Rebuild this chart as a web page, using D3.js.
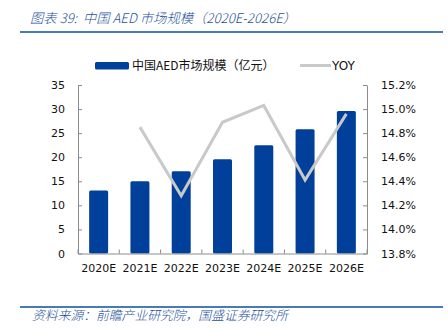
<!DOCTYPE html>
<html>
<head>
<meta charset="utf-8">
<script src="https://cdn.jsdelivr.net/npm/d3@7"></script>
<style>
  html, body { margin: 0; padding: 0; background: #fff; }
  svg { display: block; }
</style>
</head>
<body>
<script>
// AED market size in China (100 million yuan) and year-on-year growth
const years = ["2020E", "2021E", "2022E", "2023E", "2024E", "2025E", "2026E"];
const marketSize = [13.1, 15.0, 17.1, 19.6, 22.5, 25.8, 29.6];
const yoyYears = ["2021E", "2022E", "2023E", "2024E", "2025E", "2026E"];
const yoy = [0.1485, 0.1428, 0.1489, 0.1503, 0.1441, 0.1496];
const leftTicks = [0, 5, 10, 15, 20, 25, 30, 35];
const rightTicks = [0.138, 0.140, 0.142, 0.144, 0.146, 0.148, 0.150, 0.152];

const W = 448, H = 329;
const blue = "#00409a";
const titleBlue = "#1d4f9e";
const grey = "#c9c9c9";
const font = "DejaVu Sans, Verdana, sans-serif";
const cjk = "Noto Sans CJK SC, sans-serif";

const svg = d3.select("body").append("svg").attr("width", W).attr("height", H);

const plot = { left: 78, right: 367, top: 85, bottom: 253.5 };

const x = d3.scaleBand().domain(years).range([plot.left, plot.right]).paddingInner(0.54).paddingOuter(0.27);
const xBand = d3.scaleBand().domain(years).range([plot.left, plot.right]);
const yL = d3.scaleLinear().domain([0, 35]).range([plot.bottom, plot.top]);
const yR = d3.scaleLinear().domain([0.138, 0.152]).range([plot.bottom, plot.top]);

// Title and rule
svg.append("text")
  .attr("x", 30).attr("y", 22.5)
  .attr("font-family", cjk).attr("font-size", 13.3).attr("font-style", "italic")
  .attr("font-weight", 300)
  .attr("fill", titleBlue)
  .style("white-space", "pre")
  .text("图表 39:  中国 AED 市场规模（2020E-2026E）");
svg.append("line").attr("x1", 20).attr("x2", 443).attr("y1", 32).attr("y2", 32)
  .attr("stroke", "#0b4ea2").attr("stroke-width", 1.5);

// Bars
svg.append("g").selectAll("rect").data(years).join("rect")
  .attr("x", d => x(d))
  .attr("width", x.bandwidth())
  .attr("y", (d, i) => yL(marketSize[i]))
  .attr("height", (d, i) => yL(0) - yL(marketSize[i]))
  .attr("rx", 1.5)
  .attr("fill", blue);

// Axes
const axisColor = "#8c8c8c";
const leftAxis = svg.append("g").attr("transform", `translate(${plot.left},0)`)
  .call(d3.axisLeft(yL).tickValues(leftTicks).tickSizeInner(-4).tickSizeOuter(0).tickPadding(13));
const rightAxis = svg.append("g").attr("transform", `translate(${plot.right},0)`)
  .call(d3.axisRight(yR).tickValues(rightTicks).tickSizeInner(-4).tickSizeOuter(0).tickPadding(14)
    .tickFormat(d3.format(".1%")));
const bottomAxis = svg.append("g").attr("transform", `translate(0,${plot.bottom})`)
  .call(d3.axisBottom(x).tickSize(0).tickPadding(11));

// inward category separators on the bottom axis
svg.append("g").selectAll("line").data(years.slice(1)).join("line")
  .attr("x1", d => xBand(d)).attr("x2", d => xBand(d))
  .attr("y1", plot.bottom).attr("y2", plot.bottom - 4)
  .attr("stroke", axisColor);
svg.append("g").selectAll("line").data([plot.left, plot.right]).join("line")
  .attr("x1", d => d).attr("x2", d => d)
  .attr("y1", plot.bottom).attr("y2", plot.bottom - 4)
  .attr("stroke", axisColor);

[leftAxis, rightAxis, bottomAxis].forEach(g => {
  g.selectAll("path").attr("stroke", axisColor);
  g.selectAll("line").attr("stroke", axisColor);
  g.selectAll("text").attr("font-family", font).attr("font-size", 11).attr("fill", "#111");
});

// YOY line
const line = d3.line()
  .x((d, i) => xBand(yoyYears[i]) + xBand.bandwidth() / 2)
  .y(d => yR(d));
svg.append("path").datum(yoy)
  .attr("d", line)
  .attr("fill", "none")
  .attr("stroke", grey)
  .attr("stroke-width", 3)
  .attr("stroke-linejoin", "miter");

// Legend
const lg = svg.append("g");
lg.append("rect").attr("x", 95).attr("y", 62).attr("width", 34).attr("height", 7.5).attr("rx", 1.5).attr("fill", blue);
lg.append("text").attr("x", 132).attr("y", 70)
  .attr("font-family", cjk).attr("font-size", 12).attr("fill", "#111")
  .text("中国AED市场规模（亿元）");
lg.append("line").attr("x1", 300).attr("x2", 331).attr("y1", 65.5).attr("y2", 65.5)
  .attr("stroke", grey).attr("stroke-width", 3);
lg.append("text").attr("x", 332).attr("y", 70)
  .attr("font-family", font).attr("font-size", 12).attr("fill", "#111")
  .text("YOY");

// Source note
svg.append("line").attr("x1", 20).attr("x2", 443).attr("y1", 307).attr("y2", 307)
  .attr("stroke", "#0b4ea2").attr("stroke-width", 1.5);
svg.append("text")
  .attr("x", 32).attr("y", 320)
  .attr("font-family", cjk).attr("font-size", 12.8).attr("font-style", "italic")
  .attr("font-weight", 300)
  .attr("fill", titleBlue)
  .text("资料来源：前瞻产业研究院，国盛证券研究所");
</script>
</body>
</html>
